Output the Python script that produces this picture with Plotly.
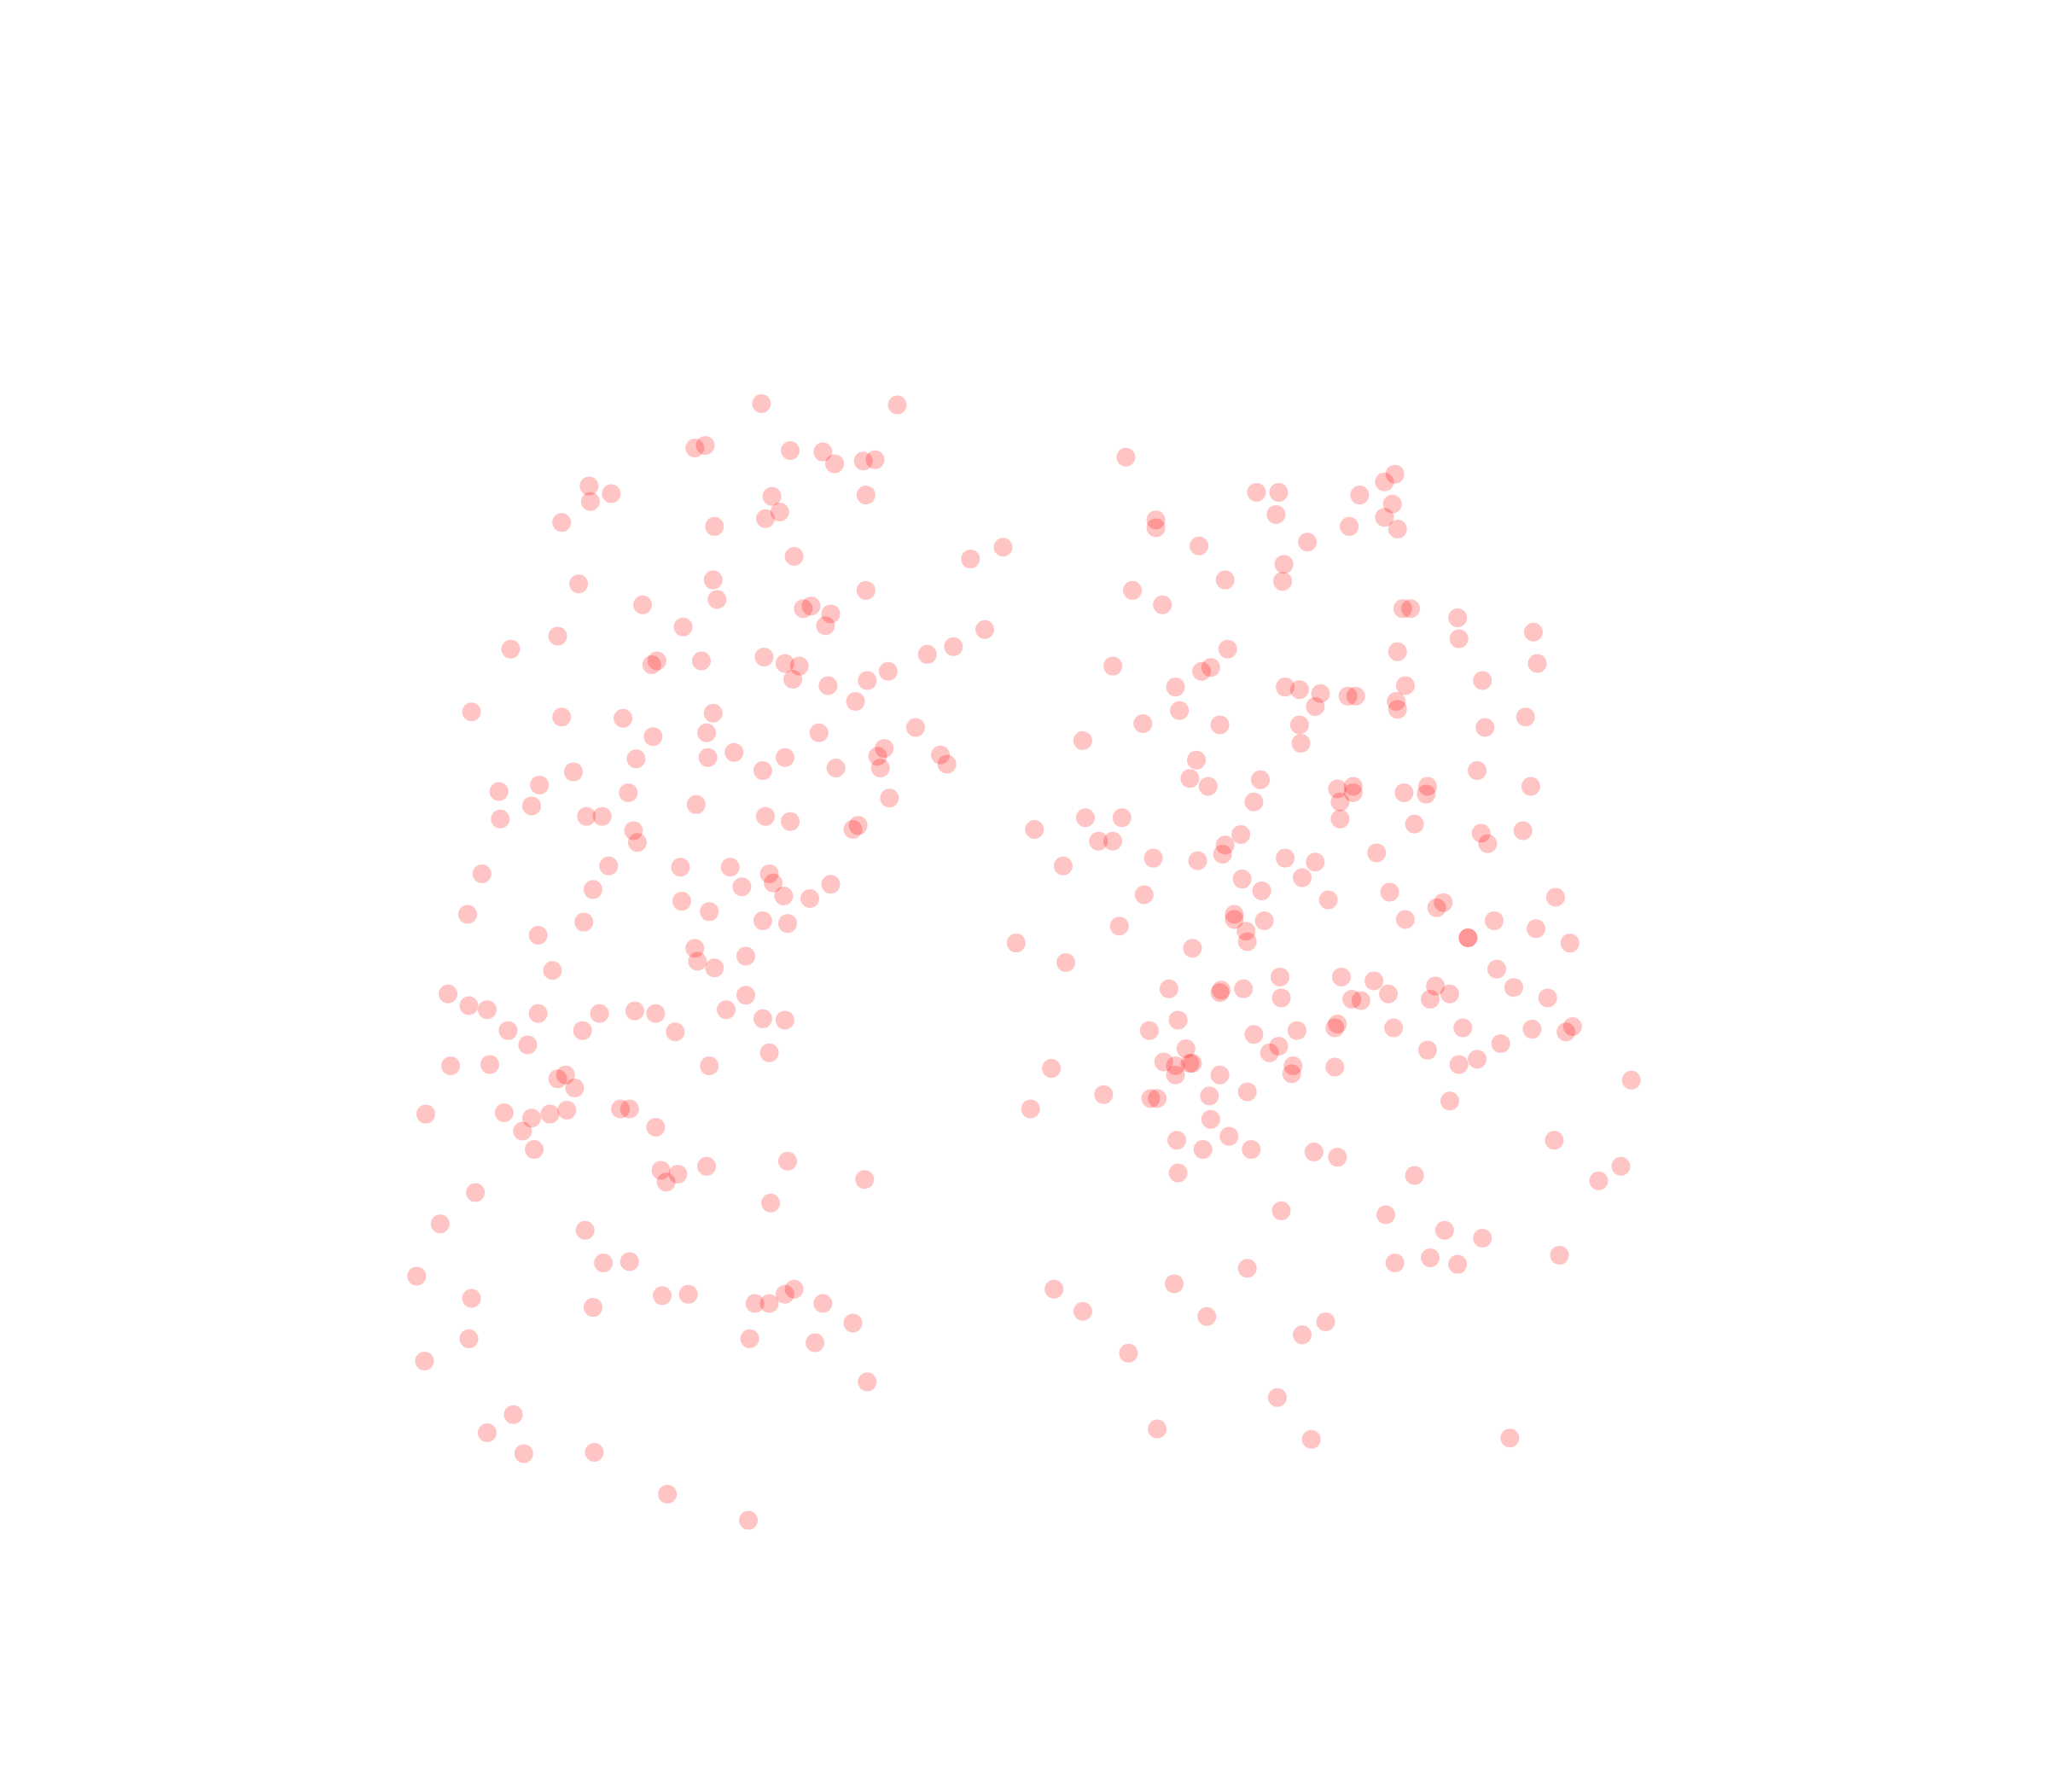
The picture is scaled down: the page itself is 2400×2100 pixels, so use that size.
import plotly.graph_objects as go

left_x = [583,687,532,540,605,630,639,661,670,451,468,452,591,663,597,586,430,547,608,743,768,443,546,549,663,492,615,621,636,632,523,427,391,754,730,710,585,601,612,499,503,537,680,664,607,634,655,361,430,477,546,541,500,627,701,677,672,674,720,725,487,542,562,601,584,640,439,413,382,481,407,533,681,383,449,461,586,605,657,653,485,488,369,466,521,559,589,592,568,636,454,600,620,522,543,358,584,603,447,412,532,534,571,547,423,343,359,373,412,459,486,502,556,571,584,601,389,446,517,404,589,345,375,543,427,433,440,326,386,407,421,434,475,482,502,400,409,603,506,519,510,541,662,364,590,337,448,462,482,319,361,507,527,454,578,589,601,608,630,653,359,574,624,325,664,393,373,401,455,511,573]
left_y = [309,310,343,341,345,346,355,353,352,372,378,384,380,379,392,397,400,403,426,428,419,447,444,459,452,463,466,464,470,479,480,487,497,482,495,501,503,508,510,509,506,506,514,521,520,525,537,545,549,550,546,561,564,561,557,573,579,588,578,585,581,580,576,580,590,588,591,601,606,607,617,616,611,627,625,625,625,629,632,635,636,645,669,663,664,664,669,676,679,677,681,686,688,690,698,700,705,707,706,716,726,736,732,741,743,761,770,773,776,776,774,776,773,762,780,781,789,789,790,800,806,816,815,816,826,823,833,853,852,856,853,850,849,849,863,866,880,889,896,899,905,893,903,913,921,937,942,967,966,977,994,992,991,1001,998,998,991,987,998,1013,1025,1025,1028,1042,1058,1083,1097,1113,1112,1144,1164]
right_x = [862,1068,1060,962,979,1041,1066,977,1060,885,885,1033,1070,918,1001,983,938,982,867,890,1074,1080,1116,1174,1117,1070,940,1177,852,927,920,1135,900,984,995,1011,1032,1038,1076,1069,1070,1007,903,875,934,995,1137,1168,829,996,916,1131,911,965,925,1024,1036,1036,1075,1093,1092,1172,1026,960,831,859,1026,1083,792,1134,1166,1139,950,938,841,852,936,1054,883,917,984,1007,814,951,997,966,1064,876,1017,1191,1105,1100,945,945,968,1076,1144,857,1176,954,955,1124,1124,778,1202,913,816,1146,980,1027,1052,1099,1159,895,935,934,952,1063,1110,981,1035,1042,1095,1185,902,1024,1022,880,993,1067,1120,1173,1199,1204,960,979,972,1149,1093,908,891,900,911,913,1117,1131,990,989,1022,805,900,934,1249,955,845,926,881,886,1110,789,927,941,901,1190,921,958,1006,1024,1241,902,1083,1224,981,1061,1106,1135,1068,1095,1116,1194,955,899,807,829,924,1015,997,864,978,886,1004,1156]
right_y = [350,363,369,377,377,379,386,394,396,398,404,403,405,418,415,432,444,445,452,463,466,466,473,484,489,499,497,508,510,511,514,521,526,526,528,531,533,533,525,537,543,541,544,554,555,555,557,549,567,569,582,590,596,597,602,604,602,607,607,602,608,602,614,614,626,626,627,631,635,638,636,646,639,647,644,644,654,653,657,659,657,660,663,673,672,682,683,685,689,687,691,695,700,704,705,704,705,709,711,713,721,718,718,722,722,726,737,742,748,748,751,755,756,757,758,760,757,761,761,764,765,766,765,764,781,784,787,789,789,787,787,788,790,786,792,801,806,799,804,803,813,816,814,814,815,811,816,822,817,818,823,823,827,836,838,839,841,841,843,849,857,870,873,873,880,880,882,886,893,898,900,904,927,930,942,948,967,963,968,961,971,983,987,1004,1008,1012,1022,1036,1070,1094,1102,1101]

fig = go.Figure(go.Scatter(
    x=left_x + right_x,
    y=left_y + right_y,
    mode="markers",
    marker=dict(size=22, color="rgba(255,0,0,0.23)", line=dict(width=0)),
    hoverinfo="skip",
))
fig.update_layout(
    width=2384, height=2084,
    margin=dict(l=0, r=0, t=0, b=0),
    paper_bgcolor="white", plot_bgcolor="white",
    showlegend=False,
    xaxis=dict(range=[5.2, 1562.8], visible=False),
    yaxis=dict(range=[1366.8, 5.2], visible=False),
)
fig.write_html("out.html")
